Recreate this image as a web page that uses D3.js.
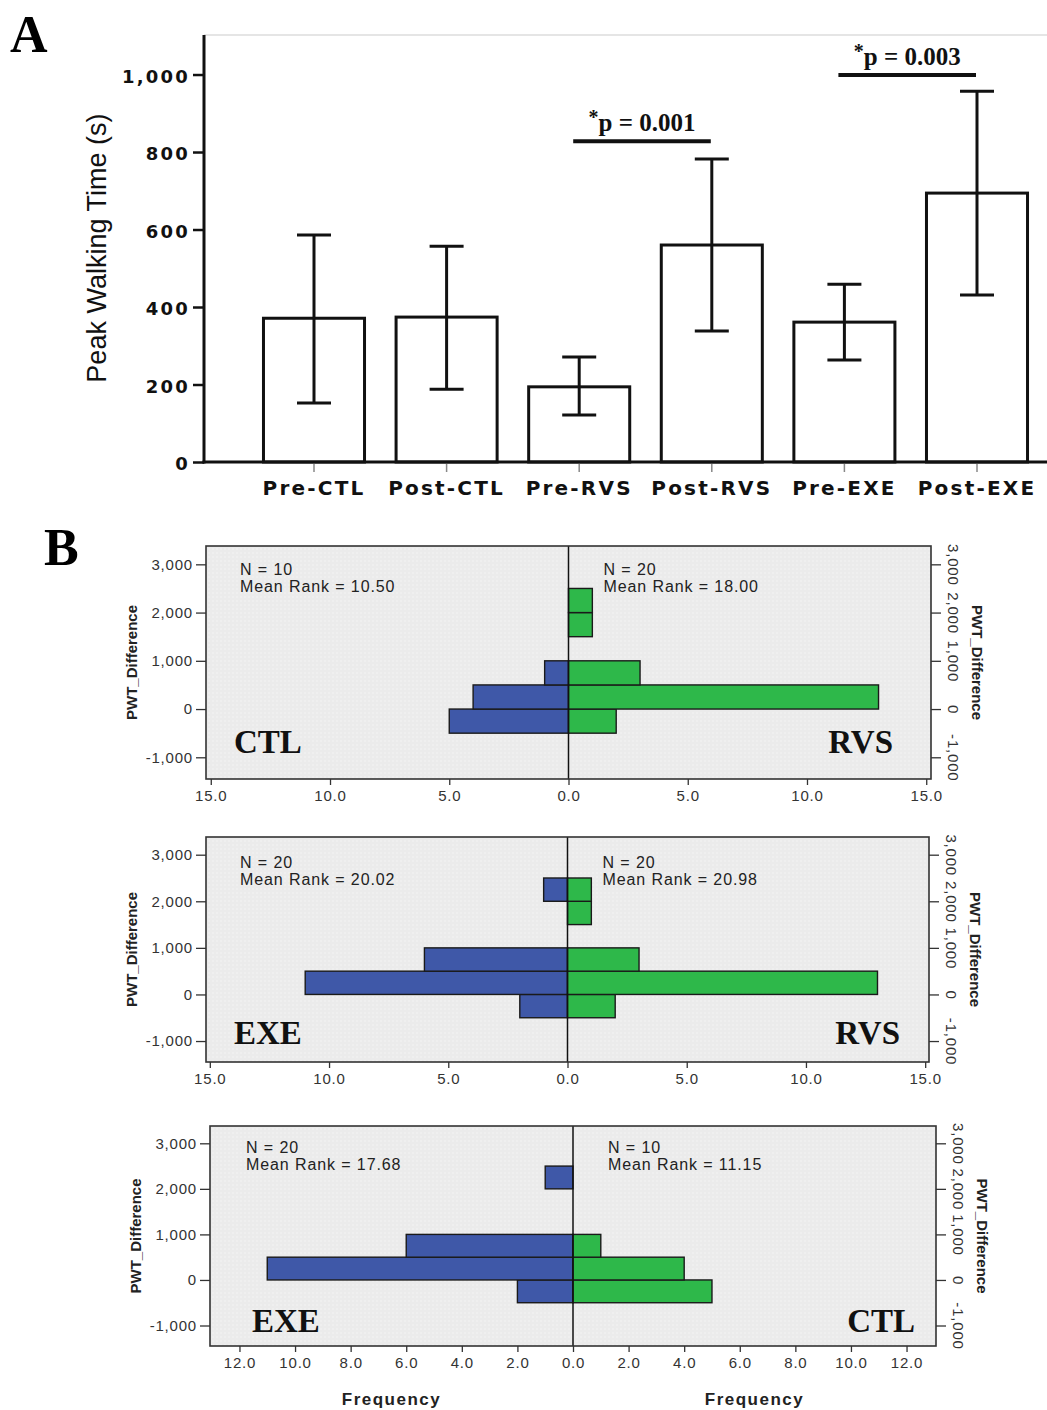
<!DOCTYPE html>
<meta charset="utf-8">
<style>
body {
  margin: 0;
  padding: 0;
  background: #fff;
}
text {
  font-family: "Liberation Sans", Arial, sans-serif;
}
.tickA text {
  font-family: "DejaVu Sans", Verdana, sans-serif;
  font-weight: bold;
  fill: #111;
}
.axB text {
  font-size: 15px;
  fill: #333;
  letter-spacing: 0.8px;
}
.axB line {
  stroke: #333;
  stroke-width: 1.3px;
}
</style>
<body>
<script src="https://cdn.jsdelivr.net/npm/d3@7"></script>
<script>

// ---- panel A data (means with error bars, seconds)
var groupsA = ["Pre-CTL", "Post-CTL", "Pre-RVS", "Post-RVS", "Pre-EXE", "Post-EXE"];
var meanA  = [371, 374, 194, 560, 361, 694];
var upperA = [586, 557, 271, 782, 459, 957];
var lowerA = [152, 188, 121, 338, 263, 431];
var yTicksA = [0, 200, 400, 600, 800, 1000];
// significance brackets: [from, to, height in s, label]
var sigA = [["Pre-RVS", "Post-RVS", 828, "0.001"], ["Pre-EXE", "Post-EXE", 999, "0.003"]];

// ---- panel B data (frequency per PWT_Difference bin of 500)
var binLo = [-500, 0, 500, 1000, 1500, 2000];
var ctlFreq = [5, 4, 1, 0, 0, 0];
var rvsFreq = [2, 13, 3, 0, 1, 1];
var exeFreq = [2, 11, 6, 0, 0, 1];
var yTicksB = [-1000, 0, 1000, 2000, 3000];
var xTicks15 = [0, 5, 10, 15];
var xTicks12 = [0, 2, 4, 6, 8, 10, 12];
var statsB = [
  {left: ["N = 10", "Mean Rank = 10.50"], right: ["N = 20", "Mean Rank = 18.00"]},
  {left: ["N = 20", "Mean Rank = 20.02"], right: ["N = 20", "Mean Rank = 20.98"]},
  {left: ["N = 20", "Mean Rank = 17.68"], right: ["N = 10", "Mean Rank = 11.15"]}
];

var blue = "#3f58a8", green = "#2eb84a";

var svg = d3.select("body").append("svg")
    .attr("width", 1047)
    .attr("height", 1410);

var defs = svg.append("defs");
var pat = defs.append("pattern")
    .attr("id", "dots")
    .attr("width", 4).attr("height", 4)
    .attr("patternUnits", "userSpaceOnUse");
pat.append("rect").attr("width", 4).attr("height", 4).attr("fill", "#ebebeb");
pat.append("circle").attr("cx", 1).attr("cy", 1).attr("r", 0.7).attr("fill", "#f7f7f7");

// ================= Panel A =================
var yA = d3.scaleLinear().domain([0, 1102]).range([462, 35]);
var xA = d3.scaleBand().domain(groupsA).range([247.7, 1043.3]).paddingInner(0.238).paddingOuter(0.119);

svg.append("text")
    .attr("x", 10).attr("y", 52)
    .style("font-family", "'Liberation Serif', 'Times New Roman', serif")
    .style("font-weight", "bold").style("font-size", "52px")
    .text("A");

// top light frame line
svg.append("line")
    .attr("x1", 204).attr("x2", 1047)
    .attr("y1", yA(1102)).attr("y2", yA(1102))
    .style("stroke", "#dcdcdc").style("stroke-width", 1.5);

var barsA = svg.append("g");
groupsA.forEach(function(g, i) {
  barsA.append("rect")
      .attr("x", xA(g))
      .attr("y", yA(meanA[i]))
      .attr("width", xA.bandwidth())
      .attr("height", yA(0) - yA(meanA[i]))
      .style("fill", "#fff")
      .style("stroke", "#111")
      .style("stroke-width", 3);
  var cx = xA(g) + xA.bandwidth() / 2;
  barsA.append("line")
      .attr("x1", cx).attr("x2", cx)
      .attr("y1", yA(upperA[i])).attr("y2", yA(lowerA[i]))
      .style("stroke", "#111").style("stroke-width", 3);
  [upperA[i], lowerA[i]].forEach(function(v) {
    barsA.append("line")
        .attr("x1", cx - 17).attr("x2", cx + 17)
        .attr("y1", yA(v)).attr("y2", yA(v))
        .style("stroke", "#111").style("stroke-width", 3);
  });
});

// axes
var gyA = svg.append("g")
    .attr("class", "tickA")
    .attr("transform", "translate(204,0)")
    .call(d3.axisLeft(yA).tickValues(yTicksA).tickSize(11).tickPadding(3).tickFormat(d3.format(",")));
gyA.select(".domain").remove();
gyA.selectAll("line").style("stroke", "#111").style("stroke-width", 2.5);
gyA.selectAll("text").style("font-size", "18px").style("letter-spacing", "2.2px").attr("dy", "0.42em");

svg.append("line")
    .attr("x1", 204).attr("x2", 204)
    .attr("y1", yA(1102)).attr("y2", 463.5)
    .style("stroke", "#111").style("stroke-width", 3);

var gxA = svg.append("g")
    .attr("class", "tickA")
    .attr("transform", "translate(0,462)")
    .call(d3.axisBottom(xA).tickSize(10).tickPadding(6));
gxA.select(".domain").remove();
gxA.selectAll("line").style("stroke", "#888").style("stroke-width", 1.5);
gxA.selectAll("text").style("font-size", "20px").style("letter-spacing", "2.2px").attr("dy", "0.85em");

svg.append("line")
    .attr("x1", 202.5).attr("x2", 1047)
    .attr("y1", 462).attr("y2", 462)
    .style("stroke", "#111").style("stroke-width", 3);

svg.append("text")
    .attr("transform", "translate(106," + yA(552) + ") rotate(-90)")
    .attr("text-anchor", "middle")
    .style("font-size", "27px")
    .style("fill", "#111")
    .text("Peak Walking Time (s)");

// significance brackets
sigA.forEach(function(s) {
  var x1 = xA(s[0]) + xA.bandwidth() / 2 - 6,
      x2 = xA(s[1]) + xA.bandwidth() / 2 - 1;
  svg.append("line")
      .attr("x1", x1).attr("x2", x2)
      .attr("y1", yA(s[2])).attr("y2", yA(s[2]))
      .style("stroke", "#111").style("stroke-width", 4);
  var t = svg.append("text")
      .attr("x", (x1 + x2) / 2).attr("y", yA(s[2]) - 10)
      .attr("text-anchor", "middle")
      .style("font-family", "'Liberation Serif', 'Times New Roman', serif")
      .style("font-weight", "bold")
      .style("font-size", "25px")
      .style("fill", "#111");
  t.append("tspan").attr("dy", "-7").style("font-size", "20px").text("*");
  t.append("tspan").attr("dy", "7").text("p = " + s[3]);
});

// ================= Panel B =================
svg.append("text")
    .attr("x", 44).attr("y", 565)
    .style("font-family", "'Liberation Serif', 'Times New Roman', serif")
    .style("font-weight", "bold").style("font-size", "52px")
    .text("B");

function pyramid(o) {
  var cx = (o.left + o.right) / 2;
  var y = d3.scaleLinear().domain([-1450, 3380]).range([o.bottom, o.top]);
  var xL = d3.scaleLinear().domain([0, o.xmax]).range([cx, o.left]);
  var xR = d3.scaleLinear().domain([0, o.xmax]).range([cx, o.right]);
  var g = svg.append("g");

  g.append("rect")
      .attr("x", o.left).attr("y", o.top)
      .attr("width", o.right - o.left).attr("height", o.bottom - o.top)
      .style("fill", "url(#dots)");

  function bars(freq, sc, color) {
    binLo.forEach(function(b, i) {
      if (!freq[i]) return;
      var xa = sc(0), xb = sc(freq[i]);
      g.append("rect")
          .attr("x", Math.min(xa, xb))
          .attr("y", y(b + 500))
          .attr("width", Math.abs(xb - xa))
          .attr("height", y(b) - y(b + 500))
          .style("fill", color)
          .style("stroke", "#1a1a1a")
          .style("stroke-width", 1.4);
    });
  }
  bars(o.leftFreq, xL, blue);
  bars(o.rightFreq, xR, green);

  g.append("line")
      .attr("x1", cx).attr("x2", cx)
      .attr("y1", o.top).attr("y2", o.bottom)
      .style("stroke", "#111").style("stroke-width", 1.5);

  g.append("rect")
      .attr("x", o.left).attr("y", o.top)
      .attr("width", o.right - o.left).attr("height", o.bottom - o.top)
      .style("fill", "none")
      .style("stroke", "#333").style("stroke-width", 1.6);

  var fmtY = function(d) { return d3.format(",")(d).replace("\u2212", "-"); };
  var ay = g.append("g").attr("class", "axB")
      .attr("transform", "translate(" + o.left + ",0)")
      .call(d3.axisLeft(y).tickValues(yTicksB).tickSize(10).tickPadding(3).tickFormat(fmtY));
  ay.select(".domain").remove();

  var ar = g.append("g").attr("class", "axB")
      .attr("transform", "translate(" + o.right + ",0)")
      .call(d3.axisRight(y).tickValues(yTicksB).tickSize(10).tickFormat(fmtY));
  ar.select(".domain").remove();
  ar.selectAll("text")
      .attr("x", 0).attr("y", -22).attr("dy", "0.35em")
      .attr("text-anchor", "middle")
      .attr("transform", "rotate(90)");

  var fmtX = d3.format(".1f");
  var axl = g.append("g").attr("class", "axB")
      .attr("transform", "translate(0," + o.bottom + ")")
      .call(d3.axisBottom(xL).tickValues(o.xticks).tickSize(6).tickPadding(5).tickFormat(fmtX));
  axl.select(".domain").remove();
  var axr = g.append("g").attr("class", "axB")
      .attr("transform", "translate(0," + o.bottom + ")")
      .call(d3.axisBottom(xR).tickValues(o.xticks.slice(1)).tickSize(6).tickPadding(5).tickFormat(fmtX));
  axr.select(".domain").remove();

  g.append("text")
      .attr("transform", "translate(" + (o.left - 74) + "," + ((o.top + o.bottom) / 2) + ") rotate(-90)")
      .attr("text-anchor", "middle").attr("dy", "0.35em")
      .style("font-size", "15px").style("font-weight", "bold").style("fill", "#222")
      .text("PWT_Difference");
  g.append("text")
      .attr("transform", "translate(" + (o.right + 46) + "," + ((o.top + o.bottom) / 2) + ") rotate(90)")
      .attr("text-anchor", "middle").attr("dy", "0.35em")
      .style("font-size", "15px").style("font-weight", "bold").style("fill", "#222")
      .text("PWT_Difference");

  [[o.left + o.nx, o.stats.left], [cx + 35, o.stats.right]].forEach(function(p) {
    p[1].forEach(function(s, k) {
      g.append("text")
          .attr("x", p[0]).attr("y", o.top + o.ny + k * 17)
          .style("font-size", "16px").style("letter-spacing", "0.9px").style("fill", "#222")
          .text(s);
    });
  });

  g.append("text")
      .attr("x", o.left + o.lx).attr("y", o.bottom - o.ly)
      .style("font-family", "'Liberation Serif', 'Times New Roman', serif")
      .style("font-weight", "bold").style("font-size", "33px").style("fill", "#111")
      .text(o.leftName);
  g.append("text")
      .attr("x", o.right - o.rx).attr("y", o.bottom - o.ly)
      .attr("text-anchor", "end")
      .style("font-family", "'Liberation Serif', 'Times New Roman', serif")
      .style("font-weight", "bold").style("font-size", "33px").style("fill", "#111")
      .text(o.rightName);

  if (o.freqLabel) {
    [(o.left + cx) / 2, (cx + o.right) / 2].forEach(function(fx) {
      g.append("text")
          .attr("x", fx).attr("y", 1405)
          .attr("text-anchor", "middle")
          .style("font-size", "17px").style("font-weight", "bold")
          .style("letter-spacing", "1.5px").style("fill", "#222")
          .text("Frequency");
    });
  }
}

pyramid({left: 206, right: 931, top: 546, bottom: 779, xmax: 15.2, xticks: xTicks15,
  leftFreq: ctlFreq, rightFreq: rvsFreq, leftName: "CTL", rightName: "RVS",
  stats: statsB[0], nx: 34, ny: 29, lx: 28, rx: 38, ly: 26});
pyramid({left: 206, right: 929, top: 837, bottom: 1062, xmax: 15.16, xticks: xTicks15,
  leftFreq: exeFreq, rightFreq: rvsFreq, leftName: "EXE", rightName: "RVS",
  stats: statsB[1], nx: 34, ny: 31, lx: 28, rx: 29, ly: 18});
pyramid({left: 210, right: 936, top: 1126, bottom: 1346, xmax: 13.06, xticks: xTicks12,
  leftFreq: exeFreq, rightFreq: ctlFreq, leftName: "EXE", rightName: "CTL",
  stats: statsB[2], nx: 36, ny: 27, lx: 42, rx: 21, ly: 14, freqLabel: true});

</script>
